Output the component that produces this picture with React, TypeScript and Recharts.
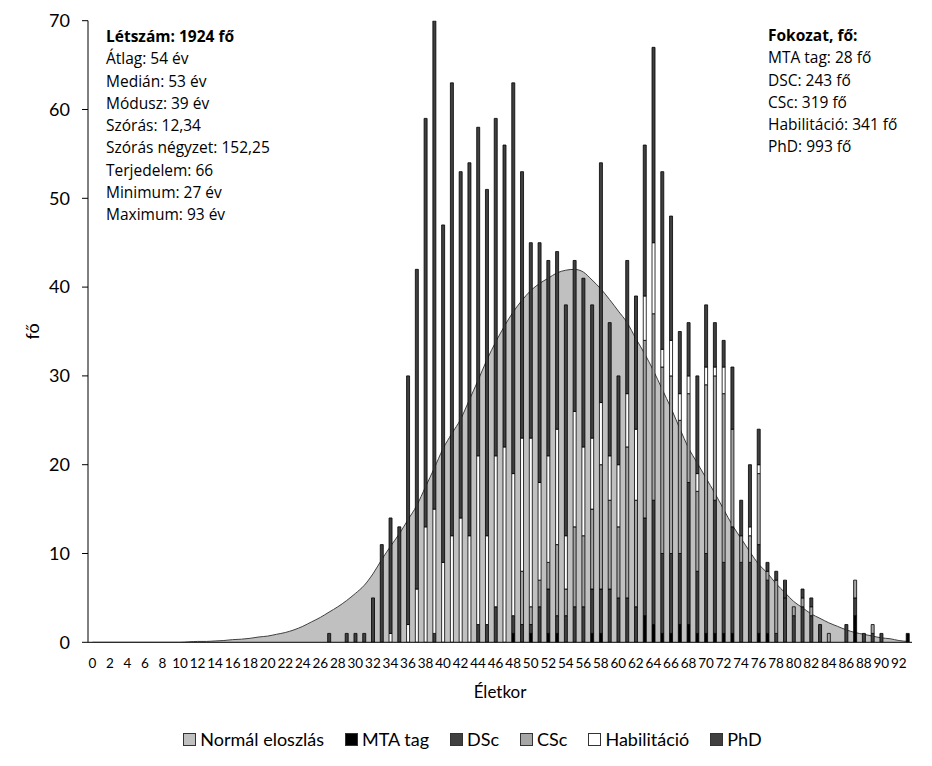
import React from 'react';
import { ComposedChart, Bar, Area, XAxis, YAxis, Legend } from 'recharts';

const ages = [
  0, 1, 2, 3, 4, 5, 6, 7, 8, 9,
  10, 11, 12, 13, 14, 15, 16, 17, 18, 19,
  20, 21, 22, 23, 24, 25, 26, 27, 28, 29,
  30, 31, 32, 33, 34, 35, 36, 37, 38, 39,
  40, 41, 42, 43, 44, 45, 46, 47, 48, 49,
  50, 51, 52, 53, 54, 55, 56, 57, 58, 59,
  60, 61, 62, 63, 64, 65, 66, 67, 68, 69,
  70, 71, 72, 73, 74, 75, 76, 77, 78, 79,
  80, 81, 82, 83, 84, 85, 86, 87, 88, 89,
  90, 91, 92, 93,
];

const normal = [
  0, 0, 0, 0, 0, 0, 0, 0, 0, 0,
  0, 0.05, 0.1, 0.1, 0.15, 0.2, 0.3, 0.35, 0.45, 0.6,
  0.7, 0.9, 1.1, 1.4, 1.8, 2.3, 2.8, 3.4, 4.0, 4.7,
  5.5, 6.4, 7.7, 9.3, 10.8, 12.2, 13.8, 15.4, 17.5, 19.6,
  21.8, 23.5, 25.1, 27.3, 29.5, 31.8, 33.8, 35.6, 37.2, 38.5,
  39.6, 40.4, 41.0, 41.6, 41.9, 42.0, 41.7, 40.8, 39.8, 38.6,
  37.3, 36.0, 34.2, 32.5, 30.6, 28.5, 26.4, 24.1, 21.9, 20.2,
  18.5, 16.8, 15.0, 13.2, 11.7, 10.2, 8.8, 7.8, 6.6, 5.6,
  4.6, 3.9, 3.2, 2.7, 2.2, 1.8, 1.4, 1.1, 0.9, 0.7,
  0.5, 0.4, 0.2, 0.1,
];

const mtaTag = [
  0, 0, 0, 0, 0, 0, 0, 0, 0, 0,
  0, 0, 0, 0, 0, 0, 0, 0, 0, 0,
  0, 0, 0, 0, 0, 0, 0, 0, 0, 0,
  0, 0, 0, 0, 0, 0, 0, 0, 0, 0,
  0, 0, 0, 0, 0, 0, 0, 0, 1, 0,
  1, 0, 1, 1, 0, 0, 0, 1, 1, 0,
  0, 0, 0, 3, 2, 1, 1, 2, 2, 1,
  1, 1, 1, 1, 0, 0, 1, 1, 0, 0,
  0, 0, 0, 0, 0, 0, 0, 3, 0, 0,
  0, 0, 0, 1,
];

const dsc = [
  0, 0, 0, 0, 0, 0, 0, 0, 0, 0,
  0, 0, 0, 0, 0, 0, 0, 0, 0, 0,
  0, 0, 0, 0, 0, 0, 0, 0, 0, 0,
  0, 0, 0, 0, 0, 0, 0, 0, 0, 1,
  0, 0, 0, 0, 2, 2, 4, 0, 2, 2,
  1, 4, 5, 2, 3, 4, 4, 5, 5, 6,
  5, 5, 4, 11, 14, 9, 9, 8, 16, 7,
  9, 15, 8, 12, 9, 9, 10, 6, 1, 5,
  3, 4, 3, 2, 0, 0, 2, 2, 1, 1,
  1, 0, 0, 0,
];

const csc = [
  0, 0, 0, 0, 0, 0, 0, 0, 0, 0,
  0, 0, 0, 0, 0, 0, 0, 0, 0, 0,
  0, 0, 0, 0, 0, 0, 0, 0, 0, 0,
  0, 0, 0, 0, 0, 0, 0, 0, 0, 0,
  0, 0, 0, 0, 0, 0, 0, 0, 0, 6,
  2, 3, 3, 8, 3, 9, 8, 9, 14, 10,
  8, 17, 12, 20, 21, 21, 20, 15, 10, 9,
  19, 14, 19, 11, 3, 3, 8, 1, 6, 0,
  1, 1, 1, 0, 1, 0, 0, 2, 0, 1,
  0, 0, 0, 0,
];

const habil = [
  0, 0, 0, 0, 0, 0, 0, 0, 0, 0,
  0, 0, 0, 0, 0, 0, 0, 0, 0, 0,
  0, 0, 0, 0, 0, 0, 0, 0, 0, 0,
  0, 0, 0, 0, 1, 0, 2, 6, 13, 14,
  9, 12, 14, 12, 19, 10, 17, 22, 16, 15,
  19, 11, 12, 13, 6, 13, 10, 8, 7, 5,
  7, 6, 8, 5, 8, 2, 4, 3, 2, 2,
  2, 1, 3, 0, 0, 1, 1, 0, 0, 0,
  0, 0, 0, 0, 0, 0, 0, 0, 0, 0,
  0, 0, 0, 0,
];

const phd = [
  0, 0, 0, 0, 0, 0, 0, 0, 0, 0,
  0, 0, 0, 0, 0, 0, 0, 0, 0, 0,
  0, 0, 0, 0, 0, 0, 0, 1, 0, 1,
  1, 1, 5, 11, 13, 13, 28, 36, 46, 55,
  38, 51, 39, 42, 37, 39, 38, 34, 44, 30,
  22, 27, 22, 20, 26, 17, 19, 15, 27, 15,
  10, 15, 15, 17, 22, 20, 14, 7, 6, 11,
  7, 5, 3, 7, 4, 7, 4, 1, 1, 2,
  0, 1, 1, 0, 0, 0, 0, 0, 0, 0,
  0, 0, 0, 0,
];

const yTicks = [0, 10, 20, 30, 40, 50, 60, 70];

const statsLeft = [
  'Létszám: 1924 fő',
  'Átlag: 54 év',
  'Medián: 53 év',
  'Módusz: 39 év',
  'Szórás: 12,34',
  'Szórás négyzet: 152,25',
  'Terjedelem: 66',
  'Minimum: 27 év',
  'Maximum: 93 év',
];

const statsRight = [
  'Fokozat, fő:',
  'MTA tag: 28 fő',
  'DSC: 243 fő',
  'CSc: 319 fő',
  'Habilitáció: 341 fő',
  'PhD: 993 fő',
];

const legendOrder = ['normal', 'mta', 'dsc', 'csc', 'habil', 'phd'];

const data = ages.map((age, i) => ({
  age,
  normal: normal[i],
  mta: mtaTag[i],
  dsc: dsc[i],
  csc: csc[i],
  habil: habil[i],
  phd: phd[i],
}));

const fills: Record<string, string> = {
  normal: '#c0c0c0',
  mta: '#000000',
  dsc: '#404040',
  csc: '#a6a6a6',
  habil: '#ffffff',
  phd: '#404040',
};

const renderLegend = (props: any) => {
  const payload = props.payload || [];
  const ordered = legendOrder
    .map((k) => payload.find((p: any) => p.dataKey === k))
    .filter(Boolean);
  return (
    <div
      style={{
        display: 'flex',
        justifyContent: 'center',
        alignItems: 'center',
        fontFamily: 'Lato',
        fontSize: 18,
        color: '#000',
        paddingLeft: 13,
      }}
    >
      {ordered.map((p: any, i: number) => (
        <div
          key={p.dataKey}
          style={{ display: 'flex', alignItems: 'center', marginRight: i === ordered.length - 1 ? 0 : 21 }}
        >
          <span
            style={{
              display: 'inline-block',
              width: 11,
              height: 11,
              background: fills[p.dataKey],
              border: '1px solid #333',
              marginRight: 4,
            }}
          />
          <span>{p.value}</span>
        </div>
      ))}
    </div>
  );
};

const textStyle: React.CSSProperties = {
  fontFamily: '"Open Sans"',
  fontSize: 15.5,
  lineHeight: '22.3px',
  color: '#000',
  whiteSpace: 'nowrap',
};

export default function App() {
  return (
    <div style={{ position: 'relative', width: 916, height: 750, background: '#fff' }}>
      <ComposedChart
        width={916}
        height={750}
        data={data}
        margin={{ top: 12.7, right: 12, bottom: 55.7, left: 0 }}
        barSize={3}
        barGap={0}
      >
        <XAxis
          dataKey="age"
          interval={1}
          tickLine={false}
          fontSize={13.5}
          axisLine={{ stroke: '#000', strokeWidth: 1 }}
          tick={{ fontSize: 13.5, fill: '#000', fontFamily: 'Lato' }}
          tickMargin={10}
          height={60}
          label={{ value: 'Életkor', position: 'insideBottom', offset: 4, fontSize: 17, fill: '#000', fontFamily: 'Lato' }}
        />
        <YAxis
          domain={[0, 70]}
          ticks={yTicks}
          width={80}
          allowDataOverflow
          tickLine={{ stroke: '#000' }}
          tickSize={6}
          tickMargin={12}
          axisLine={{ stroke: '#000', strokeWidth: 1 }}
          tick={{ fontSize: 18, fill: '#000', fontFamily: 'Lato' }}
          label={{
            value: 'fő',
            angle: -90,
            position: 'insideLeft',
            offset: 25,
            fontSize: 18,
            fill: '#000',
            fontFamily: 'Lato',
            style: { textAnchor: 'middle' },
          }}
        />
        <Area
          dataKey="normal"
          name="Normál eloszlás"
          type="monotone"
          fill={fills.normal}
          fillOpacity={1}
          stroke="#404040"
          strokeWidth={1}
          isAnimationActive={false}
          dot={false}
          activeDot={false}
        />
        <Bar dataKey="mta" name="MTA tag" stackId="a" fill={fills.mta} stroke="#000" strokeWidth={0.8} isAnimationActive={false} />
        <Bar dataKey="dsc" name="DSc" stackId="a" fill={fills.dsc} stroke="#000" strokeWidth={0.8} isAnimationActive={false} />
        <Bar dataKey="csc" name="CSc" stackId="a" fill={fills.csc} stroke="#000" strokeWidth={0.8} isAnimationActive={false} />
        <Bar dataKey="habil" name="Habilitáció" stackId="a" fill={fills.habil} stroke="#000" strokeWidth={0.8} isAnimationActive={false} />
        <Bar dataKey="phd" name="PhD" stackId="a" fill={fills.phd} stroke="#000" strokeWidth={0.8} isAnimationActive={false} />
        <Legend
          content={renderLegend}
          layout="horizontal"
          verticalAlign="middle"
          align="center"
          wrapperStyle={{ position: 'absolute', top: 720, left: 0, width: 916, height: 26 }}
        />
      </ComposedChart>
      <div style={{ ...textStyle, position: 'absolute', left: 98, top: 17 }}>
        {statsLeft.map((s, i) => (
          <div key={s} style={{ fontWeight: i === 0 ? 700 : 400 }}>{s}</div>
        ))}
      </div>
      <div style={{ ...textStyle, position: 'absolute', left: 760, top: 16 }}>
        {statsRight.map((s, i) => (
          <div key={s} style={{ fontWeight: i === 0 ? 700 : 400 }}>{s}</div>
        ))}
      </div>
    </div>
  );
}
